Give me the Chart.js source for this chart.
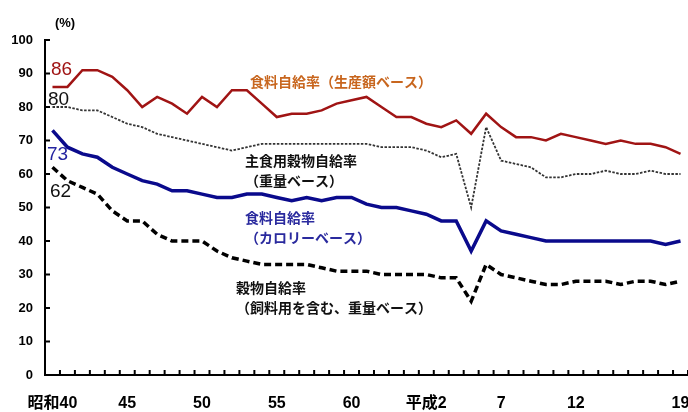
<!DOCTYPE html>
<html>
<head>
<meta charset="utf-8">
<script src="https://cdn.jsdelivr.net/npm/chart.js@4/dist/chart.umd.min.js"></script>
<style>
  html, body { margin: 0; padding: 0; background: #fff; }
  #c { display: block; }
</style>
</head>
<body>
<canvas id="c" width="688" height="412"></canvas>
<script>
// Fiscal years, 昭和40 (1965) to 平成19 (2007)
const categories = [
  '昭和40','昭和41','昭和42','昭和43','昭和44','昭和45','昭和46','昭和47','昭和48','昭和49',
  '昭和50','昭和51','昭和52','昭和53','昭和54','昭和55','昭和56','昭和57','昭和58','昭和59',
  '昭和60','昭和61','昭和62','昭和63','平成元','平成2','平成3','平成4','平成5','平成6',
  '平成7','平成8','平成9','平成10','平成11','平成12','平成13','平成14','平成15','平成16',
  '平成17','平成18','平成19'
];

// Tick labels shown under the axis (index -> text)
const tickLabels = { 0: '昭和40', 5: '45', 10: '50', 15: '55', 20: '60', 25: '平成2', 30: '7', 35: '12', 42: '19' };

// 食料自給率（生産額ベース）
const productionValueRate = [
  86, 86, 91, 91, 89, 85, 80, 83, 81, 78, 83, 80, 85,
  85, 81, 77, 78, 78, 79, 81, 82, 83, 80, 77, 77,
  75, 74, 76, 72, 78, 74, 71, 71, 70, 72, 71, 70, 69, 70, 69, 69, 68, 66
];

// 主食用穀物自給率（重量ベース）
const stapleGrainRate = [
  80, 80, 79, 79, 77, 75, 74, 72, 71, 70, 69, 68, 67,
  68, 69, 69, 69, 69, 69, 69, 69, 69, 68, 68, 68,
  67, 65, 66, 50, 74, 64, 63, 62, 59, 59, 60, 60, 61, 60, 60, 61, 60, 60
];

// 食料自給率（カロリーベース）
const calorieRate = [
  73, 68, 66, 65, 62, 60, 58, 57, 55, 55, 54, 53, 53,
  54, 54, 53, 52, 53, 52, 53, 53, 51, 50, 50, 49,
  48, 46, 46, 37, 46, 43, 42, 41, 40, 40, 40, 40, 40, 40, 40, 40, 39, 40
];

// 穀物自給率（飼料用を含む、重量ベース）
const grainRate = [
  62, 58, 56, 54, 49, 46, 46, 42, 40, 40, 40, 37, 35,
  34, 33, 33, 33, 33, 32, 31, 31, 31, 30, 30, 30,
  30, 29, 29, 22, 33, 30, 29, 28, 27, 27, 28, 28, 28, 27, 28, 28, 27, 28
];

const RED = '#a01414';
const BLUE = '#0a0a8c';
const GREY = '#333333';
const BLACK = '#000000';

const SANS = '"Liberation Sans", Arial, "Noto Sans CJK JP", sans-serif';
const CJK = '"Noto Sans CJK JP", sans-serif';

// Short tick marks pointing into the plot area
const innerTicks = {
  id: 'innerTicks',
  afterDraw(chart) {
    const { ctx, chartArea: a, scales: { x, y } } = chart;
    ctx.save();
    ctx.strokeStyle = '#000';
    ctx.lineWidth = 2;
    ctx.beginPath();
    y.ticks.forEach((t, i) => {
      const py = y.getPixelForTick(i);
      ctx.moveTo(a.left, py);
      ctx.lineTo(a.left + 5, py);
    });
    const half = (x.getPixelForValue(1) - x.getPixelForValue(0)) / 2;
    for (let i = 0; i < categories.length; i++) {
      const px = x.getPixelForValue(i) + half;
      ctx.moveTo(px, a.bottom);
      ctx.lineTo(px, a.bottom - 5);
    }
    ctx.stroke();
    ctx.restore();
  }
};

// Unit, start values and series captions
const captions = {
  id: 'captions',
  afterDraw(chart) {
    const { ctx } = chart;
    const put = (text, x, y, font, color, align) => {
      ctx.font = font;
      ctx.fillStyle = color;
      ctx.textAlign = align || 'left';
      ctx.textBaseline = 'middle';
      ctx.fillText(text, x, y);
    };
    ctx.save();
    put('(%)', 65, 23, 'bold 13px ' + SANS, '#000', 'center');

    put(String(productionValueRate[0]), 51, 70, '19px ' + SANS, RED);
    put(String(stapleGrainRate[0]), 48, 100, '19px ' + SANS, '#111');
    put(String(calorieRate[0]), 47, 155, '19px ' + SANS, '#2323a0');
    put(String(grainRate[0]), 50, 192, '19px ' + SANS, '#111');

    put('食料自給率（生産額ベース）', 250, 82, 'bold 14px ' + CJK, '#c8661e');
    put('主食用穀物自給率', 245, 161, 'bold 14px ' + CJK, '#111');
    put('（重量ベース）', 245, 181, 'bold 14px ' + CJK, '#111');
    put('食料自給率', 245, 218, 'bold 14px ' + CJK, '#2a2a9e');
    put('（カロリーベース）', 245, 238, 'bold 14px ' + CJK, '#2a2a9e');
    put('穀物自給率', 236, 288, 'bold 14px ' + CJK, '#111');
    put('（飼料用を含む、重量ベース）', 236, 308, 'bold 14px ' + CJK, '#111');
    ctx.restore();
  }
};

new Chart(document.getElementById('c'), {
  type: 'line',
  data: {
    labels: categories,
    datasets: [
      { label: '食料自給率（生産額ベース）', data: productionValueRate, borderColor: RED, borderWidth: 2.5 },
      { label: '主食用穀物自給率（重量ベース）', data: stapleGrainRate, borderColor: GREY, borderWidth: 1.8, borderDash: [2.5, 1.5] },
      { label: '食料自給率（カロリーベース）', data: calorieRate, borderColor: BLUE, borderWidth: 3.5 },
      { label: '穀物自給率（飼料用を含む、重量ベース）', data: grainRate, borderColor: BLACK, borderWidth: 3.5, borderDash: [7, 4] }
    ]
  },
  options: {
    responsive: false,
    animation: false,
    devicePixelRatio: 1,
    layout: { padding: { top: 40, right: 0, bottom: 0, left: 0 } },
    elements: { point: { radius: 0 }, line: { tension: 0, fill: false } },
    plugins: { legend: { display: false }, tooltip: { enabled: false } },
    scales: {
      x: {
        type: 'category',
        offset: true,
        grid: { display: false, drawTicks: false, offset: true },
        border: { display: true, color: '#000', width: 2 },
        ticks: {
          autoSkip: false, maxRotation: 0, minRotation: 0, padding: 19,
          color: '#000', font: { family: SANS, size: 16, weight: 'bold' },
          callback: (v, i) => tickLabels[i] || ''
        },
        afterFit(s) { s.height = 37; s.paddingLeft = 0; s.paddingRight = 0; }
      },
      y: {
        min: 0, max: 100,
        grid: { display: false, drawTicks: false },
        border: { display: true, color: '#000', width: 2 },
        ticks: {
          stepSize: 10, padding: 12,
          color: '#000', font: { family: SANS, size: 13, weight: 'bold' }
        },
        afterFit(s) { s.width = 45; }
      }
    }
  },
  plugins: [innerTicks, captions]
});
</script>
</body>
</html>
